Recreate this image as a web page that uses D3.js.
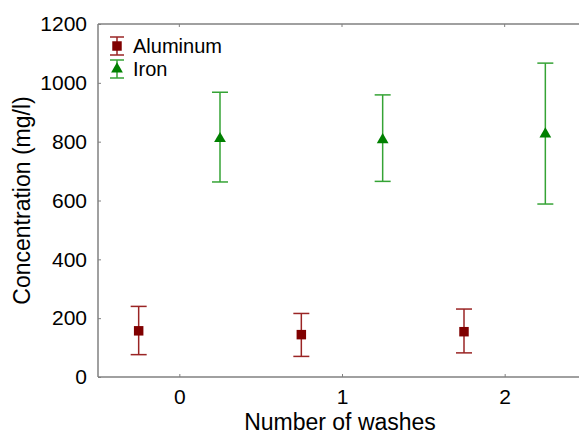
<!DOCTYPE html>
<html>
<head>
<meta charset="utf-8">
<script src="https://cdn.jsdelivr.net/npm/d3@7"></script>
<style>
  body { margin: 0; background: #fff; }
  text { font-family: "Liberation Sans", Arial, sans-serif; fill: #000; }
</style>
</head>
<body>
<script>
// data
let series_names = ["Aluminum", "Iron"];
let washes = [0, 1, 2];
let aluminum_mean = [157, 144, 154];
let aluminum_low = [76, 70, 82];
let aluminum_high = [240, 216, 231];
let iron_mean = [810, 806, 826];
let iron_low = [663, 665, 588];
let iron_high = [968, 959, 1067];
let y_ticks = [0, 200, 400, 600, 800, 1000, 1200];

// colors
let color_al = "#800000";
let color_al_bar = "#9a2424";
let color_fe = "#008000";
let color_fe_bar = "#35a335";
let color_axis = "#808080";

let width = 579, height = 436;
let margin = {top: 24, left: 98, bottom: 59};

let svg = d3.select("body").append("svg")
    .attr("width", width).attr("height", height);

let x = d3.scaleLinear().domain([-0.5, 2.5]).range([margin.left, 586]);
let y = d3.scaleLinear().domain([0, 1200]).range([height - margin.bottom, margin.top]);

// frame
let frame = svg.append("g").attr("stroke", color_axis).attr("stroke-width", 1.5).attr("fill", "none");
frame.append("line").attr("x1", x(-0.5)).attr("x2", x(-0.5)).attr("y1", y(0)).attr("y2", y(1200));
frame.append("line").attr("x1", x(-0.5)).attr("x2", x(2.5)).attr("y1", y(0)).attr("y2", y(0));
frame.append("line").attr("x1", x(-0.5)).attr("x2", x(2.5)).attr("y1", y(1200)).attr("y2", y(1200));

// y axis
let yAxis = svg.append("g")
    .attr("transform", `translate(${x(-0.5)},0)`)
    .call(d3.axisLeft(y).tickValues(y_ticks).tickFormat(d3.format("d")).tickSizeInner(-3).tickSizeOuter(0).tickPadding(11));
yAxis.select(".domain").remove();
yAxis.selectAll("line").attr("stroke", color_axis);
yAxis.selectAll("text").attr("font-size", 21).attr("font-family", "Liberation Sans, Arial, sans-serif").attr("fill", "#000");

// x axis
let xAxis = svg.append("g")
    .attr("transform", `translate(0,${y(0)})`)
    .call(d3.axisBottom(x).tickValues(washes).tickFormat(d3.format("d")).tickSizeInner(-3).tickSizeOuter(0).tickPadding(12));
xAxis.select(".domain").remove();
xAxis.selectAll("line").attr("stroke", color_axis);
xAxis.selectAll("text").attr("font-size", 21).attr("font-family", "Liberation Sans, Arial, sans-serif").attr("fill", "#000");

// top ticks
svg.append("g").selectAll("line").data(washes).join("line")
    .attr("x1", d => x(d)).attr("x2", d => x(d))
    .attr("y1", y(1200)).attr("y2", y(1200) + 3)
    .attr("stroke", color_axis);

// titles
svg.append("text")
    .attr("x", 340).attr("y", 430)
    .attr("text-anchor", "middle").attr("font-size", 23)
    .text("Number of washes");
svg.append("text")
    .attr("transform", `translate(30,${(y(0) + y(1200)) / 2}) rotate(-90)`)
    .attr("text-anchor", "middle").attr("font-size", 23)
    .text("Concentration (mg/l)");

function draw_errorbar(g, cx, lo, hi, color) {
    g.append("line").attr("x1", cx).attr("x2", cx).attr("y1", lo).attr("y2", hi)
        .attr("stroke", color).attr("stroke-width", 1.5);
    g.append("line").attr("x1", cx - 8).attr("x2", cx + 8).attr("y1", lo).attr("y2", lo)
        .attr("stroke", color).attr("stroke-width", 1.5);
    g.append("line").attr("x1", cx - 8).attr("x2", cx + 8).attr("y1", hi).attr("y2", hi)
        .attr("stroke", color).attr("stroke-width", 1.5);
}

let square = d3.symbol().type(d3.symbolSquare).size(90);
let triangle = d3.symbol().type(d3.symbolTriangle).size(60);

// aluminum
let g_al = svg.append("g");
washes.forEach((w, i) => {
    let cx = x(w - 0.25);
    draw_errorbar(g_al, cx, y(aluminum_low[i]), y(aluminum_high[i]), color_al_bar);
    g_al.append("path").attr("d", square).attr("fill", color_al)
        .attr("transform", `translate(${cx},${y(aluminum_mean[i])})`);
});

// iron
let g_fe = svg.append("g");
washes.forEach((w, i) => {
    let cx = x(w + 0.25);
    draw_errorbar(g_fe, cx, y(iron_low[i]), y(iron_high[i]), color_fe_bar);
    g_fe.append("path").attr("d", triangle).attr("fill", color_fe)
        .attr("transform", `translate(${cx},${y(iron_mean[i])})`);
});

// legend
let legend = svg.append("g");
let legend_rows = [
    {name: series_names[0], cy: 46, bar: color_al_bar, fill: color_al, sym: square, half: 9},
    {name: series_names[1], cy: 69, bar: color_fe_bar, fill: color_fe, sym: triangle, half: 9}
];
legend_rows.forEach(r => {
    let lx = 117;
    legend.append("line").attr("x1", lx).attr("x2", lx).attr("y1", r.cy - r.half).attr("y2", r.cy + r.half)
        .attr("stroke", r.bar).attr("stroke-width", 1.5);
    legend.append("line").attr("x1", lx - 7).attr("x2", lx + 7).attr("y1", r.cy - r.half).attr("y2", r.cy - r.half)
        .attr("stroke", r.bar).attr("stroke-width", 1.5);
    legend.append("line").attr("x1", lx - 7).attr("x2", lx + 7).attr("y1", r.cy + r.half).attr("y2", r.cy + r.half)
        .attr("stroke", r.bar).attr("stroke-width", 1.5);
    legend.append("path").attr("d", r.sym).attr("fill", r.fill)
        .attr("transform", `translate(${lx},${r.cy})`);
    legend.append("text").attr("x", 133).attr("y", r.cy + 7)
        .attr("font-size", 20).text(r.name);
});
</script>
</body>
</html>
